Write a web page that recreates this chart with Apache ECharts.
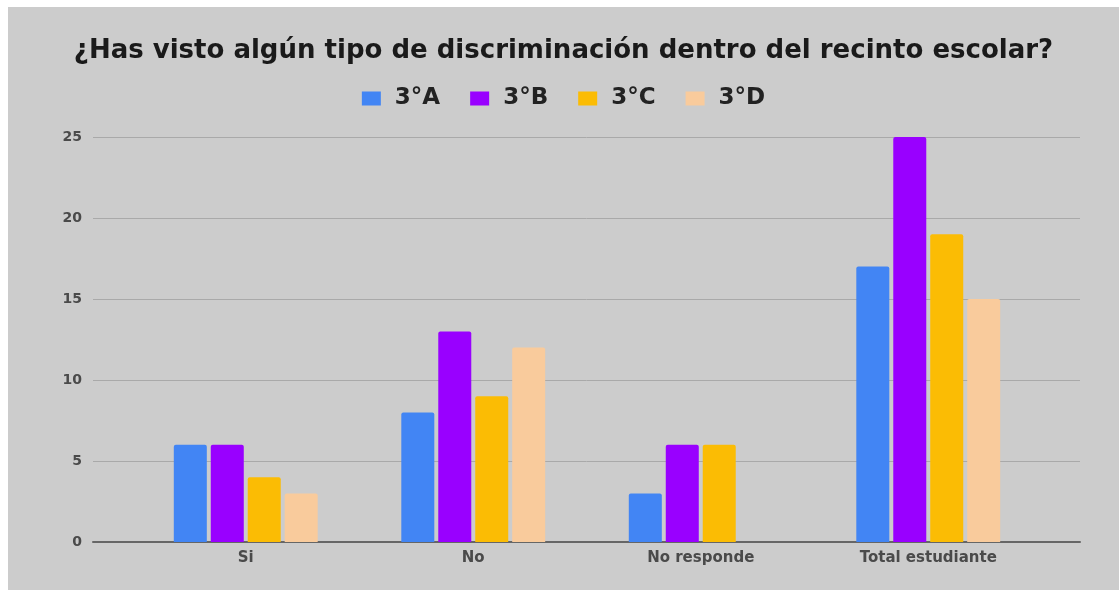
<!DOCTYPE html>
<html>
<head>
<meta charset="utf-8">
<script src="https://cdn.jsdelivr.net/npm/echarts@6/dist/echarts.min.js"></script>
<style>
  html, body { margin: 0; padding: 0; background: #ffffff; }
  #chart { position: absolute; left: 8px; top: 7px; width: 1111px; height: 583px; background: #cccccc; }
</style>
</head>
<body>
<div id="chart"></div>
<script>
// categorias y valores
var categories = ['Si', 'No', 'No responde', 'Total estudiante'];
var seriesNames = ['3°A', '3°B', '3°C', '3°D'];
var valA = [6, 8, 3, 17];
var valB = [6, 13, 6, 25];
var valC = [4, 9, 6, 19];
var valD = [3, 12, 0, 15];
var yTicks = [0, 5, 10, 15, 20, 25];
var colors = ['#4285f4', '#9900ff', '#fbbc04', '#f9cb9c'];

var chart = echarts.init(document.getElementById('chart'));

function barSeries(name, data) {
  return {
    name: name,
    type: 'bar',
    xAxisIndex: 1,
    yAxisIndex: 1,
    barWidth: 33,
    barGap: '12%',
    itemStyle: { borderRadius: [2, 2, 0, 0] },
    data: data.map(function (v) { return v === 0 ? null : v; })
  };
}

var option = {
  color: colors,
  title: {
    text: '¿Has visto algún tipo de discriminación dentro del recinto escolar?',
    left: 'center',
    top: 26,
    textStyle: { fontFamily: 'DejaVu Sans', fontWeight: 'bold', fontSize: 26, color: '#1a1a1a' }
  },
  legend: {
    top: 75,
    left: 'center',
    icon: 'rect',
    itemWidth: 19,
    itemHeight: 14,
    itemGap: 30,
    textStyle: { fontFamily: 'DejaVu Sans', fontWeight: 'bold', fontSize: 23, color: '#222222', padding: [0, 0, 0, 9] },
    data: seriesNames
  },
  grid: [
    { left: 85, right: 39, top: 130, bottom: 48 },
    { left: 124, right: 77, top: 130, bottom: 48 }
  ],
  xAxis: [
    {
      gridIndex: 0, type: 'value', min: 0, max: 1,
      axisLine: { show: true, onZero: false, lineStyle: { color: '#666666', width: 2 } },
      axisTick: { show: false }, axisLabel: { show: false }, splitLine: { show: false }
    },
    {
      gridIndex: 1, type: 'category', data: categories,
      axisLine: { show: false }, axisTick: { show: false },
      axisLabel: { margin: 9, fontFamily: 'DejaVu Sans', fontWeight: 'bold', fontSize: 15, color: '#4a4a4a' }
    }
  ],
  yAxis: [
    {
      gridIndex: 0, type: 'value', min: yTicks[0], max: yTicks[yTicks.length - 1], interval: 5,
      axisLine: { show: false }, axisTick: { show: false },
      axisLabel: { margin: 11, fontFamily: 'DejaVu Sans', fontWeight: 'bold', fontSize: 14, color: '#4a4a4a' },
      splitLine: { lineStyle: { color: '#a9a9a9', width: 1 } }
    },
    {
      gridIndex: 1, type: 'value', min: yTicks[0], max: yTicks[yTicks.length - 1], interval: 5,
      show: false, splitLine: { show: false }
    }
  ],
  series: [
    barSeries(seriesNames[0], valA),
    barSeries(seriesNames[1], valB),
    barSeries(seriesNames[2], valC),
    barSeries(seriesNames[3], valD)
  ]
};

chart.setOption(option);
</script>
</body>
</html>
